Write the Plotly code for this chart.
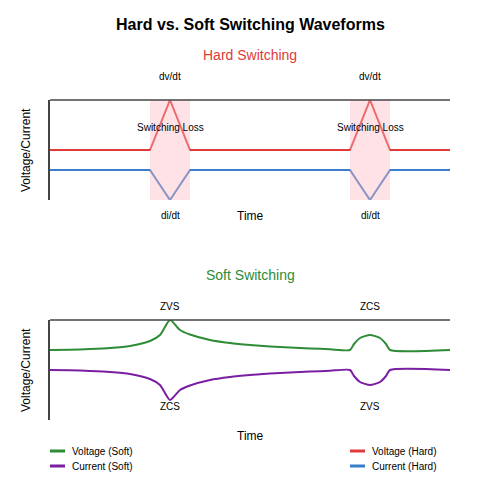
import plotly.graph_objects as go

# Hard switching data
hard_x = [0, 2.5, 3, 3.5, 7.5, 8, 8.5, 10]
hard_v = [0.5, 0.5, 1.0, 0.5, 0.5, 1.0, 0.5, 0.5]
hard_i = [0.3, 0.3, 0.0, 0.3, 0.3, 0.0, 0.3, 0.3]
loss_windows = [(2.5, 3.5), (7.5, 8.5)]

# Soft switching data
soft_x = [0, 0.5, 1, 1.5, 2, 2.5, 2.75, 3, 3.25, 3.5, 4, 4.5, 5, 5.5, 6, 6.5, 7, 7.5,
          7.6, 7.75, 8, 8.25, 8.4, 8.5, 10]
soft_v = [0.70, 0.703, 0.71, 0.72, 0.74, 0.79, 0.85, 1.0, 0.90, 0.855, 0.80, 0.77, 0.75,
          0.735, 0.725, 0.715, 0.708, 0.70, 0.76, 0.82, 0.85, 0.82, 0.76, 0.70, 0.70]
soft_i = [0.50, 0.497, 0.49, 0.48, 0.46, 0.41, 0.35, 0.2, 0.30, 0.345, 0.40, 0.43, 0.45,
          0.465, 0.475, 0.485, 0.492, 0.50, 0.44, 0.38, 0.35, 0.38, 0.44, 0.50, 0.50]

legend_names = ["Voltage (Soft)", "Current (Soft)", "Voltage (Hard)", "Current (Hard)"]

RED, BLUE, GREEN, PURPLE = "#e03a3a", "#3a7dc9", "#2e8b36", "#7b1fa2"
FONT = "Liberation Sans"
OFF = 8  # page body margin compensation

fig = go.Figure()
fig.add_trace(go.Scatter(x=soft_x, y=soft_v, mode="lines", line=dict(color=GREEN, width=2, shape="spline", smoothing=0.6),
                         name=legend_names[0], xaxis="x2", yaxis="y2"))
fig.add_trace(go.Scatter(x=soft_x, y=soft_i, mode="lines", line=dict(color=PURPLE, width=2, shape="spline", smoothing=0.6),
                         name=legend_names[1], xaxis="x2", yaxis="y2"))
fig.add_trace(go.Scatter(x=hard_x, y=hard_v, mode="lines", line=dict(color=RED, width=2), name=legend_names[2]))
fig.add_trace(go.Scatter(x=hard_x, y=hard_i, mode="lines", line=dict(color=BLUE, width=2), name=legend_names[3]))

for x0, x1 in loss_windows:
    fig.add_shape(type="rect", xref="x", yref="y", x0=x0, x1=x1, y0=0, y1=1,
                  fillcolor="rgba(255,182,193,0.4)", line_width=0, layer="above")

for xr, yd in [("x domain", "y domain"), ("x2 domain", "y2 domain")]:
    fig.add_shape(type="line", xref=xr, yref=yd, x0=0, x1=1, y0=1, y1=1,
                  line=dict(color="#444", width=1.5))

def py(p):
    return 1 - (p - OFF) / 500

def pxp(p):
    return (p - 50) / 400

ann = []
def txt(text, x, y, size=10, color="black", xref="x", **kw):
    kw.setdefault("xanchor", "center")
    ann.append(dict(text=text, x=x, y=py(y), xref=xref, yref="paper", showarrow=False, yanchor="middle",
                    font=dict(size=size, color=color, family=FONT), **kw))

txt("<b>Hard vs. Soft Switching Waveforms</b>", 0.5, 24, 16, xref="paper")
txt("Hard Switching", 0.5, 55, 14, RED, xref="paper")
txt("Soft Switching", 0.5, 275, 14, GREEN, xref="paper")
for xc in (3, 8):
    txt("dv/dt", xc, 76)
    txt("Switching Loss", xc, 127)
    txt("di/dt", xc, 216)
txt("ZVS", 3, 306); txt("ZCS", 3, 406)
txt("ZCS", 8, 306); txt("ZVS", 8, 406)
txt("Time", 0.5, 216, 12, xref="paper")
txt("Time", 0.5, 436, 12, xref="paper")
txt("Voltage/Current", pxp(26), 150, 12, xref="paper", textangle=-90)
txt("Voltage/Current", pxp(26), 370, 12, xref="paper", textangle=-90)

# manual legend
colors = [GREEN, PURPLE, RED, BLUE]
spots = [(50, 451), (50, 466), (350, 451), (350, 466)]
for name, c, (lx, ly) in zip(legend_names, colors, spots):
    fig.add_shape(type="line", xref="paper", yref="paper", x0=pxp(lx), x1=pxp(lx + 15),
                  y0=py(ly), y1=py(ly), line=dict(color=c, width=3))
    txt(name, pxp(lx + 20), ly, 10, xref="paper", xanchor="left")

ax = dict(range=[0, 10], showline=False, showticklabels=False, showgrid=False, zeroline=False, ticks="")
ay = dict(range=[0, 1], showline=True, linecolor="#444", linewidth=1.5, showticklabels=False,
          showgrid=False, zeroline=False, ticks="")

fig.update_layout(
    width=500, height=500, margin=dict(l=50 - OFF, r=50 + OFF, t=0, b=0),
    paper_bgcolor="white", plot_bgcolor="white", showlegend=False,
    xaxis=dict(**ax, domain=[0, 1], anchor="y"),
    yaxis=dict(**ay, domain=[1 - (200 - OFF) / 500, 1 - (100 - OFF) / 500], anchor="x"),
    xaxis2=dict(**ax, domain=[0, 1], anchor="y2"),
    yaxis2=dict(**ay, domain=[1 - (420 - OFF) / 500, 1 - (320 - OFF) / 500], anchor="x2"),
    annotations=ann,
    font=dict(family=FONT, size=10),
)
fig.write_html("out.html")
